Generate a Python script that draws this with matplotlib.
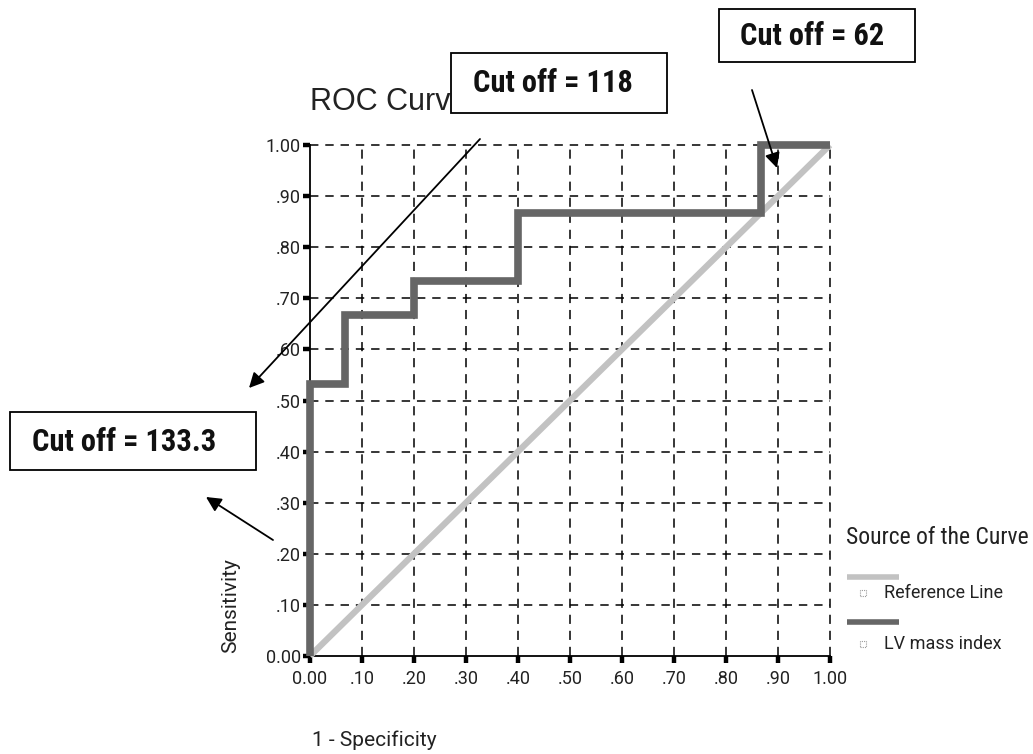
import matplotlib
matplotlib.use("Agg")
import matplotlib.pyplot as plt
import matplotlib.font_manager as fm
from matplotlib.lines import Line2D
from matplotlib.patches import FancyArrowPatch, Rectangle

# ---------------- data ----------------
lv_fpr = [0.0, 0.0, 0.067, 0.067, 0.2, 0.2, 0.4, 0.4, 0.867, 0.867, 1.0]
lv_tpr = [0.0, 0.533, 0.533, 0.667, 0.667, 0.733, 0.733, 0.867, 0.867, 1.0, 1.0]
ref_x = [0.0, 1.0]
ref_y = [0.0, 1.0]
tick_vals = [0.0, 0.1, 0.2, 0.3, 0.4, 0.5, 0.6, 0.7, 0.8, 0.9, 1.0]
x_tick_labels = ["0.00", ".10", ".20", ".30", ".40", ".50", ".60", ".70", ".80", ".90", "1.00"]
y_tick_labels = ["0.00", ".10", ".20", ".30", ".40", ".50", ".60", ".70", ".80", ".90", "1.00"]
series_names = ["Reference Line", "LV mass index"]
cutoff_labels = ["Cut off = 62", "Cut off = 118", "Cut off = 133.3"]
title = "ROC Curve"
xlabel = "1 - Specificity"
ylabel = "Sensitivity"
legend_title = "Source of the Curve"

# ---------------- fonts ----------------
fonts = fm.fontManager.ttflist
names = {f.name for f in fonts}
base = "Liberation Sans" if "Liberation Sans" in names else "DejaVu Sans"
plt.rcParams["font.family"] = [base, "DejaVu Sans"]
mid = dict(family=["Roboto", base]) if "Roboto" in names else dict(family=[base])

cond = None
for cand in ["Liberation Sans Narrow", "Arial Narrow", "Roboto Condensed",
             "Open Sans Condensed", "DejaVu Sans Condensed", "Noto Sans Condensed"]:
    if cand in names:
        cond = dict(family=[cand, base])
        break
if cond is None:
    for f in fonts:
        if f.name in ("DejaVu Sans", "Noto Sans", "Open Sans", "Roboto") and \
                str(f.stretch) in ("condensed", "semi-condensed", "extra-condensed"):
            cond = dict(family=[f.name, base], fontstretch=str(f.stretch))
            break

W, H = 1033, 754
fig = plt.figure(figsize=(W / 100, H / 100), dpi=100)
fig.patch.set_facecolor("white")


def fx(x):
    return x / W


def fy(y):
    return 1 - y / H


# axes: x from 310 to 830 px, y from 145 (1.00) to 656 (0.00)
ax = fig.add_axes([fx(310), fy(656), (830 - 310) / W, (656 - 145) / H])
ax.set_xlim(0, 1)
ax.set_ylim(0, 1)
for s in ["top", "right"]:
    ax.spines[s].set_visible(False)
for s in ["left", "bottom"]:
    ax.spines[s].set_linewidth(1.3)
    ax.spines[s].set_color("black")

ax.set_xticks(tick_vals)
ax.set_xticklabels(x_tick_labels, **mid)
ax.set_yticks(tick_vals)
ax.set_yticklabels(y_tick_labels, **mid)
ax.tick_params(direction="out", length=5, width=3.2, colors="black",
               labelsize=13, labelcolor="#222222")
ax.tick_params(axis="x", pad=5)
ax.tick_params(axis="y", pad=1.5)

# dashed grid
for v in tick_vals[1:]:
    ax.axvline(v, color="black", lw=1.1, ls=(0, (6, 4.5)), zorder=1, clip_on=False)
    ax.axhline(v, color="black", lw=1.1, ls=(0, (5.5, 4.5)), zorder=1, clip_on=False)

# curves
ax.plot(ref_x, ref_y, color="#c2c2c2", lw=4.5, solid_capstyle="butt", zorder=3, clip_on=False)
ax.plot(lv_fpr, lv_tpr, color="#666666", lw=5.5, solid_joinstyle="miter",
        solid_capstyle="butt", zorder=4, clip_on=False)

# title and axis labels
fig.text(fx(310), fy(102), title, fontsize=22, color="#222222", va="center", ha="left", zorder=1)
fig.text(fx(312), fy(740), xlabel, fontsize=15, color="#222222", va="center", ha="left", **mid)
fig.text(fx(231), fy(606), ylabel, fontsize=15, color="#222222", va="center", ha="center",
         rotation=90, **mid)

# legend
if cond:
    fig.text(fx(846), fy(537), legend_title, fontsize=17, color="#222222", va="center",
             ha="left", **cond)
else:
    fig.text(fx(846), fy(538), legend_title, fontsize=14.5, color="#222222", va="center",
             ha="left")
leg_colors = ["#c2c2c2", "#666666"]
leg_line_y = [577, 622]
leg_text_y = [593, 644]
for name, col, ly, ty in zip(series_names, leg_colors, leg_line_y, leg_text_y):
    fig.add_artist(Line2D([fx(847), fx(899)], [fy(ly), fy(ly)], color=col, lw=4,
                          solid_capstyle="butt", transform=fig.transFigure))
    fig.add_artist(Rectangle((fx(859.5), fy(ty + 3)), 6 / W, 6 / H, transform=fig.transFigure,
                             facecolor="white", edgecolor="#9a9a9a", lw=0.8, ls=(0, (1, 1))))
    fig.text(fx(884), fy(ty), name, fontsize=13, color="#222222", va="center", ha="left",
             **mid)

# cut-off boxes
if cond:
    cut_font = dict(fontweight="bold", fontsize=22, **cond)
else:
    cut_font = dict(fontweight="bold", fontsize=19)

boxes = [  # (x0, y0, x1, y1) in px
    (719, 9, 915, 62),
    (451, 53, 667, 113),
    (10, 412, 256, 470),
]
text_centers = [(812, 36), (553, 83), (124, 442)]
for lab, (x0, y0, x1, y1), (tx, ty) in zip(cutoff_labels, boxes, text_centers):
    fig.add_artist(Rectangle((fx(x0), fy(y1)), (x1 - x0) / W, (y1 - y0) / H,
                             transform=fig.transFigure, facecolor="white",
                             edgecolor="black", lw=1.3, zorder=10))
    fig.text(fx(tx), fy(ty), lab, ha="center", va="center", color="#111111", zorder=11,
             **cut_font)

# arrows
arrows = [
    ((752, 90), (777, 168)),
    ((480, 139), (249, 388)),
    ((273, 540), (206, 497)),
]
for (x0, y0), (x1, y1) in arrows:
    fig.add_artist(FancyArrowPatch((fx(x0), fy(y0)), (fx(x1), fy(y1)),
                                   transform=fig.transFigure,
                                   arrowstyle="-|>,head_length=9,head_width=4.5",
                                   color="black", lw=1.3, zorder=12,
                                   shrinkA=0, shrinkB=0))

fig.savefig("out.png", dpi=100, facecolor="white")
